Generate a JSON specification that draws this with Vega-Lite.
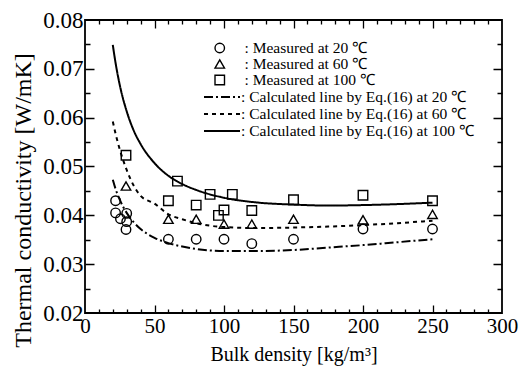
{
  "$schema": "https://vega.github.io/schema/vega-lite/v6.json",
  "width": 417,
  "height": 293,
  "autosize": "none",
  "padding": {"left": 85, "top": 20, "right": 20, "bottom": 61},
  "background": "white",
  "config": {
    "view": {"stroke": "black", "strokeWidth": 1.8},
    "font": "Liberation Serif",
    "axis": {"labelFont": "Liberation Serif", "titleFont": "Liberation Serif", "labelColor": "black", "titleColor": "black", "tickColor": "black", "domainColor": "black", "labelFlush": false, "tickWidth": 1.3, "domain": false, "labelOverlap": false},
    "legend": {"labelFont": "Liberation Serif", "labelFontSize": 15.5, "labelColor": "black", "padding": 0, "rowPadding": 0, "symbolStrokeColor": "black", "labelLimit": 400}
  },
  "data": {"values": [
      {"s": "Calculated line by Eq.(16) at 20 ℃", "rho": 20, "k": 0.0473},
      {"s": "Calculated line by Eq.(16) at 20 ℃", "rho": 22, "k": 0.0454},
      {"s": "Calculated line by Eq.(16) at 20 ℃", "rho": 25, "k": 0.0432},
      {"s": "Calculated line by Eq.(16) at 20 ℃", "rho": 30, "k": 0.0405},
      {"s": "Calculated line by Eq.(16) at 20 ℃", "rho": 35, "k": 0.0386},
      {"s": "Calculated line by Eq.(16) at 20 ℃", "rho": 40, "k": 0.0372},
      {"s": "Calculated line by Eq.(16) at 20 ℃", "rho": 50, "k": 0.0354},
      {"s": "Calculated line by Eq.(16) at 20 ℃", "rho": 60, "k": 0.0343},
      {"s": "Calculated line by Eq.(16) at 20 ℃", "rho": 70, "k": 0.0336},
      {"s": "Calculated line by Eq.(16) at 20 ℃", "rho": 80, "k": 0.0331},
      {"s": "Calculated line by Eq.(16) at 20 ℃", "rho": 100, "k": 0.0327},
      {"s": "Calculated line by Eq.(16) at 20 ℃", "rho": 125, "k": 0.0327},
      {"s": "Calculated line by Eq.(16) at 20 ℃", "rho": 150, "k": 0.0329},
      {"s": "Calculated line by Eq.(16) at 20 ℃", "rho": 175, "k": 0.0334},
      {"s": "Calculated line by Eq.(16) at 20 ℃", "rho": 200, "k": 0.0339},
      {"s": "Calculated line by Eq.(16) at 20 ℃", "rho": 225, "k": 0.0345},
      {"s": "Calculated line by Eq.(16) at 20 ℃", "rho": 250, "k": 0.0351},
      {"s": "Calculated line by Eq.(16) at 60 ℃", "rho": 20, "k": 0.0592},
      {"s": "Calculated line by Eq.(16) at 60 ℃", "rho": 22, "k": 0.0567},
      {"s": "Calculated line by Eq.(16) at 60 ℃", "rho": 25, "k": 0.0535},
      {"s": "Calculated line by Eq.(16) at 60 ℃", "rho": 30, "k": 0.0493},
      {"s": "Calculated line by Eq.(16) at 60 ℃", "rho": 35, "k": 0.0461},
      {"s": "Calculated line by Eq.(16) at 60 ℃", "rho": 40, "k": 0.0440},
      {"s": "Calculated line by Eq.(16) at 60 ℃", "rho": 50, "k": 0.0424},
      {"s": "Calculated line by Eq.(16) at 60 ℃", "rho": 60, "k": 0.0402},
      {"s": "Calculated line by Eq.(16) at 60 ℃", "rho": 70, "k": 0.0392},
      {"s": "Calculated line by Eq.(16) at 60 ℃", "rho": 80, "k": 0.0384},
      {"s": "Calculated line by Eq.(16) at 60 ℃", "rho": 100, "k": 0.0376},
      {"s": "Calculated line by Eq.(16) at 60 ℃", "rho": 125, "k": 0.0374},
      {"s": "Calculated line by Eq.(16) at 60 ℃", "rho": 150, "k": 0.0375},
      {"s": "Calculated line by Eq.(16) at 60 ℃", "rho": 175, "k": 0.0377},
      {"s": "Calculated line by Eq.(16) at 60 ℃", "rho": 200, "k": 0.0380},
      {"s": "Calculated line by Eq.(16) at 60 ℃", "rho": 225, "k": 0.0384},
      {"s": "Calculated line by Eq.(16) at 60 ℃", "rho": 250, "k": 0.0389},
      {"s": "Calculated line by Eq.(16) at 100 ℃", "rho": 20, "k": 0.0749},
      {"s": "Calculated line by Eq.(16) at 100 ℃", "rho": 22, "k": 0.0712},
      {"s": "Calculated line by Eq.(16) at 100 ℃", "rho": 25, "k": 0.0667},
      {"s": "Calculated line by Eq.(16) at 100 ℃", "rho": 30, "k": 0.0613},
      {"s": "Calculated line by Eq.(16) at 100 ℃", "rho": 35, "k": 0.0574},
      {"s": "Calculated line by Eq.(16) at 100 ℃", "rho": 40, "k": 0.0546},
      {"s": "Calculated line by Eq.(16) at 100 ℃", "rho": 50, "k": 0.0507},
      {"s": "Calculated line by Eq.(16) at 100 ℃", "rho": 60, "k": 0.0481},
      {"s": "Calculated line by Eq.(16) at 100 ℃", "rho": 70, "k": 0.0464},
      {"s": "Calculated line by Eq.(16) at 100 ℃", "rho": 80, "k": 0.0452},
      {"s": "Calculated line by Eq.(16) at 100 ℃", "rho": 100, "k": 0.0436},
      {"s": "Calculated line by Eq.(16) at 100 ℃", "rho": 125, "k": 0.0426},
      {"s": "Calculated line by Eq.(16) at 100 ℃", "rho": 150, "k": 0.0422},
      {"s": "Calculated line by Eq.(16) at 100 ℃", "rho": 175, "k": 0.0420},
      {"s": "Calculated line by Eq.(16) at 100 ℃", "rho": 200, "k": 0.0421},
      {"s": "Calculated line by Eq.(16) at 100 ℃", "rho": 225, "k": 0.0423},
      {"s": "Calculated line by Eq.(16) at 100 ℃", "rho": 250, "k": 0.0426},
      {"s": "Measured at 20 ℃", "rho": 22, "k": 0.0430},
      {"s": "Measured at 20 ℃", "rho": 22, "k": 0.0405},
      {"s": "Measured at 20 ℃", "rho": 25.5, "k": 0.0393},
      {"s": "Measured at 20 ℃", "rho": 30, "k": 0.0404},
      {"s": "Measured at 20 ℃", "rho": 30, "k": 0.0387},
      {"s": "Measured at 20 ℃", "rho": 29.5, "k": 0.0371},
      {"s": "Measured at 20 ℃", "rho": 60, "k": 0.0351},
      {"s": "Measured at 20 ℃", "rho": 80, "k": 0.0351},
      {"s": "Measured at 20 ℃", "rho": 100, "k": 0.0351},
      {"s": "Measured at 20 ℃", "rho": 120, "k": 0.0342},
      {"s": "Measured at 20 ℃", "rho": 150, "k": 0.0351},
      {"s": "Measured at 20 ℃", "rho": 200, "k": 0.0372},
      {"s": "Measured at 20 ℃", "rho": 250, "k": 0.0372},
      {"s": "Measured at 60 ℃", "rho": 29.5, "k": 0.0460},
      {"s": "Measured at 60 ℃", "rho": 60, "k": 0.0392},
      {"s": "Measured at 60 ℃", "rho": 80, "k": 0.0392},
      {"s": "Measured at 60 ℃", "rho": 100, "k": 0.0382},
      {"s": "Measured at 60 ℃", "rho": 120, "k": 0.0382},
      {"s": "Measured at 60 ℃", "rho": 150, "k": 0.0392},
      {"s": "Measured at 60 ℃", "rho": 200, "k": 0.0391},
      {"s": "Measured at 60 ℃", "rho": 250, "k": 0.0402},
      {"s": "Measured at 100 ℃", "rho": 29.5, "k": 0.0523},
      {"s": "Measured at 100 ℃", "rho": 66.5, "k": 0.0470},
      {"s": "Measured at 100 ℃", "rho": 60, "k": 0.0430},
      {"s": "Measured at 100 ℃", "rho": 80, "k": 0.0421},
      {"s": "Measured at 100 ℃", "rho": 90, "k": 0.0443},
      {"s": "Measured at 100 ℃", "rho": 106, "k": 0.0443},
      {"s": "Measured at 100 ℃", "rho": 100, "k": 0.0411},
      {"s": "Measured at 100 ℃", "rho": 96, "k": 0.0400},
      {"s": "Measured at 100 ℃", "rho": 120, "k": 0.0410},
      {"s": "Measured at 100 ℃", "rho": 150, "k": 0.0432},
      {"s": "Measured at 100 ℃", "rho": 200, "k": 0.0441},
      {"s": "Measured at 100 ℃", "rho": 250, "k": 0.0430}
  ]},
  "resolve": {"axis": {"x": "independent", "y": "independent"}},
  "layer": [
    {
      "transform": [{"filter": "indexof(datum.s, 'Calculated') === 0"}],
      "mark": {"type": "line", "color": "black", "strokeWidth": 2, "interpolate": "monotone"},
      "encoding": {
        "x": {"field": "rho", "type": "quantitative", "scale": {"domain": [0, 300], "nice": false},
          "axis": {"orient": "bottom", "grid": false, "ticks": false, "values": [0, 50, 100, 150, 200, 250, 300],
            "labelFontSize": 21, "labelPadding": 2,
            "title": "Bulk density [kg/m³]", "titleFontSize": 20, "titleFontWeight": "normal", "titlePadding": 8}},
        "y": {"field": "k", "type": "quantitative", "scale": {"domain": [0.02, 0.08], "nice": false, "zero": false},
          "axis": {"orient": "left", "grid": false, "ticks": false, "values": [0.02, 0.03, 0.04, 0.05, 0.06, 0.07, 0.08], "format": ".2f",
            "labelFontSize": 23, "labelPadding": 2,
            "title": "Thermal conductivity [W/mK]", "titleFontSize": 24, "titleFontWeight": "normal", "titlePadding": 7, "titleY": 180}},
        "strokeDash": {"field": "s", "type": "nominal",
          "scale": {"domain": ["Calculated line by Eq.(16) at 20 ℃", "Calculated line by Eq.(16) at 60 ℃", "Calculated line by Eq.(16) at 100 ℃"], "range": [[9, 3, 2, 3], [4, 4], [1, 0]]},
          "legend": {"title": null, "orient": "none", "legendX": 118, "legendY": 69, "clipHeight": 16, "symbolSize": 1296, "symbolStrokeWidth": 1.8, "labelOffset": 0, "labelExpr": "': ' + datum.label"}}
      }
    },
    {
      "transform": [{"filter": "indexof(datum.s, 'Measured') === 0"}],
      "mark": {"type": "point", "filled": false, "color": "black", "strokeWidth": 1.4, "size": 90, "opacity": 1},
      "encoding": {
        "x": {"field": "rho", "type": "quantitative", "scale": {"domain": [0, 300], "nice": false},
          "axis": {"orient": "top", "ticks": false, "labels": false, "title": null, "grid": true,
            "values": [10, 20, 30, 40, 50, 60, 70, 80, 90, 100, 110, 120, 130, 140, 150, 160, 170, 180, 190, 200, 210, 220, 230, 240, 250, 260, 270, 280, 290],
            "gridColor": "black", "gridWidth": 1.3, "gridOpacity": 1, "gridCap": "butt",
            "gridDash": {"condition": {"test": "datum.value % 50 === 0", "value": [8, 277, 8, 1000]}, "value": [4, 285, 4, 1000]}}},
        "y": {"field": "k", "type": "quantitative", "scale": {"domain": [0.02, 0.08], "nice": false, "zero": false},
          "axis": {"orient": "right", "ticks": false, "labels": false, "title": null, "grid": true,
            "values": [0.025, 0.03, 0.035, 0.04, 0.045, 0.05, 0.055, 0.06, 0.065, 0.07, 0.075],
            "gridColor": "black", "gridWidth": 1.3, "gridOpacity": 1, "gridCap": "butt",
            "gridDash": {"condition": {"test": "abs(datum.value * 100 - round(datum.value * 100)) < 0.01", "value": [9, 399, 9, 1000]}, "value": [5, 407, 5, 1000]}}},
        "shape": {"field": "s", "type": "nominal",
          "scale": {"domain": ["Measured at 20 ℃", "Measured at 60 ℃", "Measured at 100 ℃"], "range": ["circle", "triangle-up", "square"]},
          "legend": {"title": null, "orient": "none", "legendX": 127, "legendY": 20.5, "clipHeight": 15, "symbolSize": 90, "symbolStrokeWidth": 1.4, "labelOffset": 17, "labelExpr": "': ' + datum.label"}}
      }
    }
  ]
}
